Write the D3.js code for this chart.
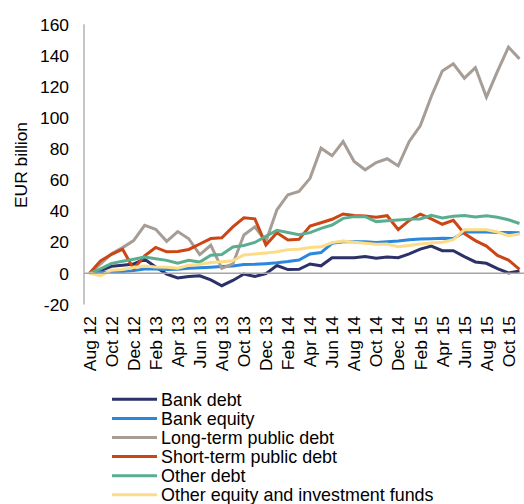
<!DOCTYPE html>
<html><head><meta charset="utf-8">
<script src="https://cdn.jsdelivr.net/npm/d3@7"></script>
<style>html,body{margin:0;padding:0;background:#fff;}svg{display:block;font-family:"Liberation Sans",Arial,sans-serif;}</style>
</head><body>
<svg id="c" width="524" height="504"></svg>
<script>
const months = ["Aug 12","Sep 12","Oct 12","Nov 12","Dec 12","Jan 13","Feb 13","Mar 13","Apr 13","May 13","Jun 13","Jul 13","Aug 13","Sep 13","Oct 13","Nov 13","Dec 13","Jan 14","Feb 14","Mar 14","Apr 14","May 14","Jun 14","Jul 14","Aug 14","Sep 14","Oct 14","Nov 14","Dec 14","Jan 15","Feb 15","Mar 15","Apr 15","May 15","Jun 15","Jul 15","Aug 15","Sep 15","Oct 15","Nov 15"];
const tickLabels = ["Aug 12","Oct 12","Dec 12","Feb 13","Apr 13","Jun 13","Aug 13","Oct 13","Dec 13","Feb 14","Apr 14","Jun 14","Aug 14","Oct 14","Dec 14","Feb 15","Apr 15","Jun 15","Aug 15","Oct 15"];
const yTicks = [-20,0,20,40,60,80,100,120,140,160];

const bankDebt = [0,1.7,4.5,5.2,6,9,4,-0.5,-3,-2,-1.6,-4.3,-8,-4.6,-0.5,-2,-0.2,5,2.4,2.6,6,4.8,10,10,10,10.8,9.6,10.5,10,12.5,15.5,17.5,14.5,14.5,10.7,7.3,6.4,3,0.2,1.5];
const bankEquity = [0,0.6,0.6,1.2,1.7,2.8,2.8,2.4,2.6,3.2,3.5,3.9,4.3,4.7,5.6,5.8,6.2,6.7,7.5,8.5,12.4,13.3,19.3,20.3,20.3,20.3,19.8,20.3,20.8,21.5,22,22.2,22.5,22.3,26.5,26.5,26.5,26.2,26.2,26];
const longTermPublic = [0,6,12.5,16.5,21,30.8,28.3,20.5,26.8,22.2,12,18,3.2,6,24.6,29.8,20.5,40.8,50.5,52.6,61,80.4,75.5,84.7,71.9,66.5,71.2,73.6,69,84.7,94.8,113.6,130,134.6,125.4,132.2,113.2,129.7,145.3,137.8];
const shortTermPublic = [0,8,12.2,15.5,2.8,11.2,16.6,13.8,14,15.3,18.8,22.3,22.8,29.8,35.7,35,18.2,26,21.4,21.8,30.4,32.5,34.7,38.1,37.1,36.8,36,37,28,34,38,35,31.5,34,25.5,21,17.5,11.5,8.5,2.5];
const otherDebt = [0,2.8,6.4,7.7,9,10.4,9.4,8.3,6.4,8.3,7.2,11.6,12.1,16.9,17.9,19.8,23.8,27.6,26.2,24.8,26.1,28.9,31,35.3,36.4,36.4,33.2,33.8,34.3,34.8,34.9,37.2,35.6,36.6,37.2,36.2,37,36,34.4,32];
const otherEquity = [0,-1.5,2,2.5,3.7,4.7,4.1,3.9,3.2,5.2,5.7,6.9,7.4,8,11.8,12.4,13,13.9,15.2,15.4,16.5,17.1,19.7,20.8,19.9,19.3,18.6,18.8,17,17.8,18.8,19.5,19.9,21.6,28,28,28,26.5,24.1,25.2];

const seriesNames = ["Bank debt","Bank equity","Long-term public debt","Short-term public debt","Other debt","Other equity and investment funds"];
const seriesValues = [bankDebt,bankEquity,longTermPublic,shortTermPublic,otherDebt,otherEquity];
const seriesColors = ["#2c3168","#2a88dc","#a69d96","#cc4514","#5aae8f","#fcdc86"];

const svg = d3.select("#c");
const x = d3.scaleBand().domain(months).range([84, 525]);
const y = d3.scaleLinear().domain([-20,160]).range([304.4, 24.3]);
const fs = 17.4;

svg.append("line").attr("x1",84).attr("x2",84).attr("y1",y(-20)).attr("y2",y(160))
  .attr("stroke","#a6a6a6").attr("stroke-width",1.3);
svg.append("g").selectAll("text").data(yTicks).join("text")
  .attr("x",69).attr("y",d=>y(d)).attr("dy","0.36em").attr("text-anchor","end")
  .attr("font-size",fs).attr("fill","#000").text(d=>d);
svg.append("text").attr("transform","translate(27,"+165+") rotate(-90)")
  .attr("text-anchor","middle").attr("font-size",fs).attr("fill","#000").text("EUR billion");

svg.append("g").selectAll("text").data(tickLabels).join("text")
  .attr("transform",d=>"translate("+(x(d)+x.bandwidth()/2)+",316) rotate(-90)")
  .attr("dy","0.36em").attr("text-anchor","end").attr("font-size",fs).attr("fill","#000").text(d=>d);

const line = d3.line().x((d,i)=>x(months[i])+x.bandwidth()/2).y(d=>y(d));
seriesValues.forEach((vals,k)=>{
  svg.append("path").datum(vals).attr("d",line).attr("fill","none")
    .attr("stroke",seriesColors[k]).attr("stroke-width",3).attr("stroke-linejoin","miter");
});

svg.append("line").attr("x1",84).attr("x2",524).attr("y1",y(0)).attr("y2",y(0))
  .attr("stroke","#a6a6a6").attr("stroke-width",1.5);

const lg = svg.append("g");
seriesNames.forEach((n,k)=>{
  const yy = 399.3 + k*19.1;
  lg.append("line").attr("x1",112).attr("x2",157).attr("y1",yy).attr("y2",yy)
    .attr("stroke",seriesColors[k]).attr("stroke-width",3);
  lg.append("text").attr("x",161).attr("y",yy).attr("dy","0.36em").attr("font-size",17.9)
    .attr("fill","#000").text(n);
});
</script>
</body></html>
